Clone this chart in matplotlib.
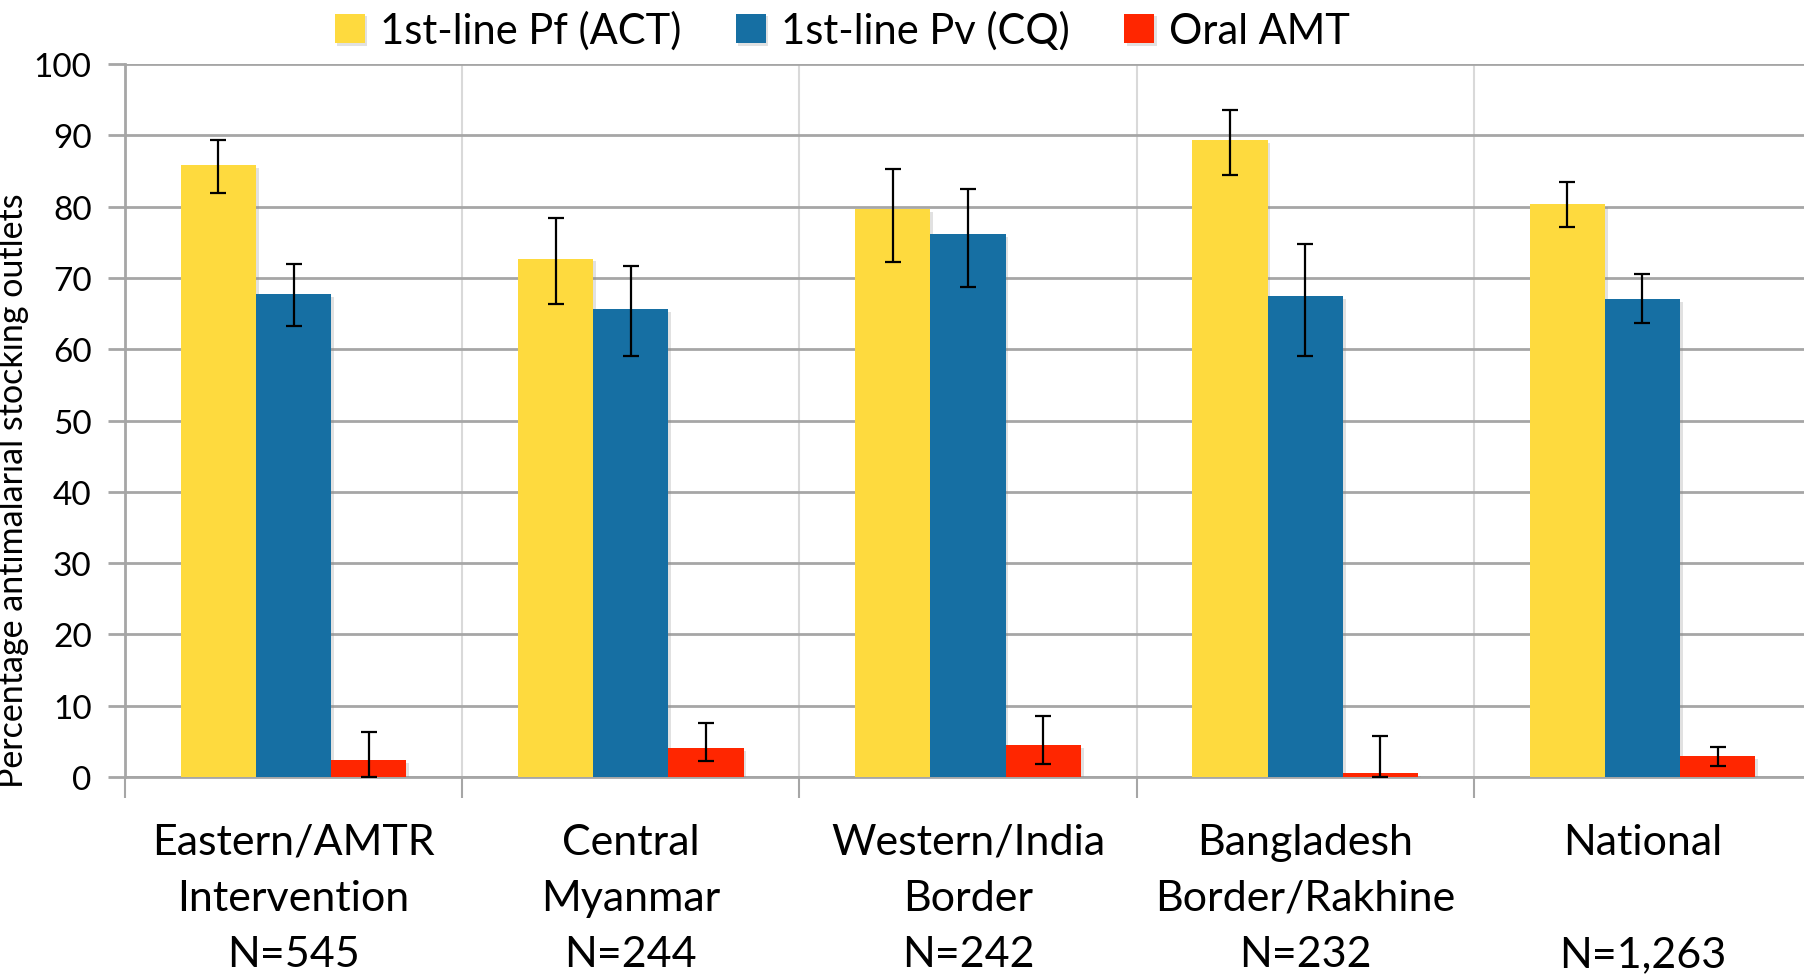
import matplotlib
matplotlib.use("Agg")
import matplotlib.pyplot as plt
import matplotlib.patheffects as pe
import numpy as np

categories = ["Eastern/AMTR\nIntervention\nN=545",
              "Central\nMyanmar\nN=244",
              "Western/India\nBorder\nN=242",
              "Bangladesh\nBorder/Rakhine\nN=232",
              "National\n\nN=1,263"]
series_names = ["1st-line Pf (ACT)", "1st-line Pv (CQ)", "Oral AMT"]

act_val = [85.8, 72.7, 79.6, 89.3, 80.3]
act_lo = [81.9, 66.4, 72.2, 84.5, 77.2]
act_hi = [89.3, 78.4, 85.3, 93.5, 83.4]

cq_val = [67.7, 65.6, 76.1, 67.4, 67.0]
cq_lo = [63.2, 59.0, 68.7, 59.1, 63.7]
cq_hi = [71.9, 71.6, 82.4, 74.8, 70.6]

amt_val = [2.4, 4.0, 4.5, 0.5, 2.9]
amt_lo = [0.0, 2.3, 1.8, 0.0, 1.6]
amt_hi = [6.3, 7.6, 8.6, 5.8, 4.2]

colors = ["#FEDA3E", "#166FA3", "#FF2600"]
yticks = [0, 10, 20, 30, 40, 50, 60, 70, 80, 90, 100]

plt.rcParams['font.family'] = ['Lato', 'DejaVu Sans']

fig = plt.figure(figsize=(18.04, 9.78), dpi=100)
ax = fig.add_axes([125/1804, 1-778/978, (1811-125)/1804, (778-65)/978])

x = np.arange(len(categories))
w = 0.223
data = [(act_val, act_lo, act_hi), (cq_val, cq_lo, cq_hi), (amt_val, amt_lo, amt_hi)]
shadow = [pe.SimplePatchShadow(offset=(2, -2), shadow_rgbFace='#888888', alpha=0.25), pe.Normal()]
for i, (vals, lo, hi) in enumerate(data):
    xpos = x + (i - 1) * w
    vals = np.array(vals); lo = np.array(lo); hi = np.array(hi)
    bars = ax.bar(xpos, vals, width=w, color=colors[i], label=series_names[i], zorder=3)
    for b in bars:
        b.set_path_effects(shadow)
    ax.errorbar(xpos, vals, yerr=[vals - lo, hi - vals], fmt='none', ecolor='black',
                elinewidth=1.6, capsize=6, capthick=1.6, zorder=4)

ax.set_xlim(-0.5, 4.5)
ax.set_ylim(0, 100)
ax.set_yticks(yticks)
ax.set_yticklabels([str(t) for t in yticks], fontsize=24)
ax.set_xticks(x)
ax.set_xticklabels(categories, fontsize=31, linespacing=1.58)
ax.set_xticks(np.arange(-0.5, 5.0, 1.0), minor=True)
ax.tick_params(axis='x', which='major', length=0, pad=33)
ax.tick_params(axis='x', which='minor', length=15, width=1.5, color='#a6a6a6')
ax.tick_params(axis='y', which='major', length=12, width=2, color='#a6a6a6', pad=12)

ax.grid(axis='y', which='major', color='#a6a6a6', linewidth=2, zorder=0)
ax.grid(axis='x', which='minor', color='#d9d9d9', linewidth=1.5, zorder=0)
ax.set_axisbelow(True)

for s in ['top', 'right']:
    ax.spines[s].set_visible(False)
ax.spines['left'].set_color('#a6a6a6')
ax.spines['left'].set_linewidth(2)
ax.spines['bottom'].set_color('#a6a6a6')
ax.spines['bottom'].set_linewidth(2)

ax.set_ylabel("Percentage antimalarial stocking outlets", fontsize=24.5)
ax.yaxis.set_label_coords(-0.057, 0.403)

handles, labels = ax.get_legend_handles_labels()
fig.legend(handles, labels, loc='center', bbox_to_anchor=(0.467, 0.968), ncol=3,
           frameon=False, fontsize=30, handlelength=0.72, handleheight=0.72,
           handletextpad=0.37, columnspacing=1.3, borderaxespad=0)

fig.savefig("out.png", dpi=100)
